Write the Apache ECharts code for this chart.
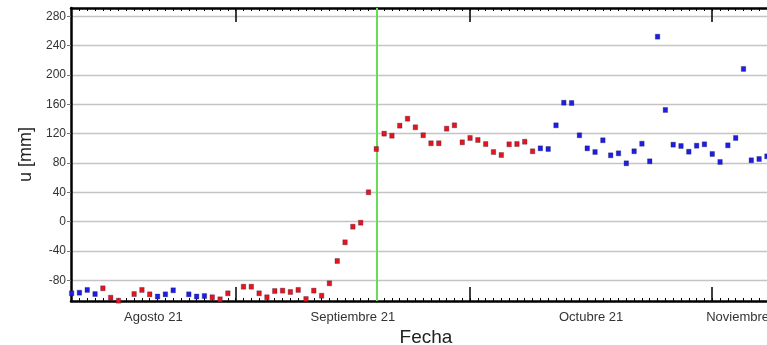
<!DOCTYPE html>
<html><head><meta charset="utf-8">
<script src="https://cdn.jsdelivr.net/npm/echarts@6/dist/echarts.min.js"></script>
<style>html,body{margin:0;padding:0;background:#fff}#c{width:767px;height:345px}</style>
</head><body><div id="c"></div>
<script>
// ---- data ----
const redDates = ['2021-08-15','2021-08-16','2021-08-17','2021-08-19','2021-08-20','2021-08-21','2021-08-29','2021-08-30','2021-08-31',
  '2021-09-02','2021-09-03','2021-09-04','2021-09-05','2021-09-06','2021-09-07','2021-09-08','2021-09-09','2021-09-10','2021-09-11',
  '2021-09-12','2021-09-13','2021-09-14','2021-09-15','2021-09-16','2021-09-17','2021-09-18','2021-09-19','2021-09-20','2021-09-21',
  '2021-09-22','2021-09-23','2021-09-24','2021-09-25','2021-09-26','2021-09-27','2021-09-28','2021-09-29','2021-09-30',
  '2021-10-01','2021-10-02','2021-10-03','2021-10-04','2021-10-05','2021-10-06','2021-10-07','2021-10-08','2021-10-09'];
const redValues = [-90.8,-103.6,-107.7,-98.6,-93,-99,-103,-105.8,-97.6,
  -88.6,-88.6,-97.6,-103,-94.5,-94,-95.8,-93,-105.4,-94,
  -100.9,-84,-53.6,-28.1,-6.8,-1.4,40.1,99.1,120,117.2,
  130.9,140.4,128.7,117.8,106.9,106.9,126.8,131.4,108.2,
  114.1,111.4,105.9,95,90.9,105.5,105.9,109,96];
const blueDates = ['2021-08-11','2021-08-12','2021-08-13','2021-08-14','2021-08-22','2021-08-23','2021-08-24','2021-08-26','2021-08-27','2021-08-28',
  '2021-10-10','2021-10-11','2021-10-12','2021-10-13','2021-10-14','2021-10-15','2021-10-16','2021-10-17','2021-10-18','2021-10-19',
  '2021-10-20','2021-10-21','2021-10-22','2021-10-23','2021-10-24','2021-10-25','2021-10-26','2021-10-27','2021-10-28','2021-10-29',
  '2021-10-30','2021-10-31','2021-11-01','2021-11-02','2021-11-03','2021-11-04','2021-11-05','2021-11-06','2021-11-07','2021-11-08'];
const blueValues = [-97.6,-96.8,-93,-98.6,-102,-99,-93.5,-99,-102,-101.3,
  100,99.1,131.4,162.2,161.8,117.8,100,95,111,90.5,
  93.2,79.6,96,106.3,82.3,252.2,152.3,105,103.2,95.4,
  103.6,105.5,92.3,81.4,104.1,114.1,208.2,83.7,85.5,89.1];
const monthStarts = ['2021-08-01','2021-09-01','2021-10-01','2021-11-01','2021-12-01'];
const monthLabels = ['Agosto 21','Septiembre 21','Octubre 21','Noviembre 21'];
const yTicks = [-80,-40,0,40,80,120,160,200,240,280];
const eventDate = '2021-09-19';
const xRange = ['2021-08-10T22:05','2021-11-09T19:12'];
const yRange = [-108.1, 291.3];

// ---- helpers ----
const REF = Date.UTC(2021, 8, 1);
function day(s) { return (Date.parse(s + (s.length === 10 ? 'T00:00Z' : 'Z')) - REF) / 86400000; }
const xMin = day(xRange[0]), xMax = day(xRange[1]);
const dayTicks = [];
for (let d = Math.ceil(xMin); d <= Math.floor(xMax); d++) dayTicks.push(d);
const monthDays = monthStarts.map(day);
const monthTicks = monthDays.filter(d => d > xMin && d < xMax);
const labelPos = monthLabels.map((_, i) => (Math.max(xMin, monthDays[i]) + Math.min(xMax, monthDays[i + 1])) / 2);
function labelFor(v) { for (let i = 0; i < labelPos.length; i++) if (Math.abs(labelPos[i] - v) < 1e-6) return monthLabels[i]; return ''; }

const redData = redDates.map((d, i) => [day(d), redValues[i]]);
const blueData = blueDates.map((d, i) => [day(d), blueValues[i]]);

const FONT = 'Liberation Sans';
const base = { type: 'value', min: xMin, max: xMax, splitLine: { show: false } };
const chart = echarts.init(document.getElementById('c'), null, { renderer: 'canvas' });
chart.setOption({
  animation: false,
  backgroundColor: '#fff',
  grid: { left: 71, top: 8, right: -14, bottom: 44, containLabel: false, outerBoundsMode: 'none' },
  xAxis: [
    Object.assign({}, base, {
      position: 'bottom',
      axisLine: { onZero: false, lineStyle: { color: '#000', width: 2.5 } },
      axisTick: { inside: true, length: 3, customValues: dayTicks, lineStyle: { color: '#000', width: 1 } },
      axisLabel: { show: false },
      name: 'Fecha', nameLocation: 'middle', nameGap: 27,
      nameTextStyle: { fontFamily: FONT, fontSize: 19, color: '#222' }
    }),
    Object.assign({}, base, {
      position: 'bottom',
      axisLine: { show: false, onZero: false },
      axisTick: { inside: true, length: 14, customValues: monthTicks, lineStyle: { color: '#000', width: 1.5 } },
      axisLabel: { customValues: labelPos, formatter: v => labelFor(v), margin: 10, fontFamily: FONT, fontSize: 13, color: '#333' }
    }),
    Object.assign({}, base, {
      position: 'top',
      axisLine: { onZero: false, lineStyle: { color: '#000', width: 2.5 } },
      axisTick: { inside: true, length: 3, customValues: dayTicks, lineStyle: { color: '#000', width: 1 } },
      axisLabel: { show: false }
    }),
    Object.assign({}, base, {
      position: 'top',
      axisLine: { show: false, onZero: false },
      axisTick: { inside: true, length: 14, customValues: monthTicks, lineStyle: { color: '#000', width: 1.5 } },
      axisLabel: { show: false }
    })
  ],
  yAxis: {
    type: 'value', min: yRange[0], max: yRange[1], position: 'left',
    axisLine: { show: true, onZero: false, lineStyle: { color: '#000', width: 2.5 } },
    axisTick: { show: true, length: 4, customValues: yTicks, lineStyle: { color: '#777', width: 1 } },
    axisLabel: { customValues: yTicks, margin: 5, fontFamily: FONT, fontSize: 12, color: '#333' },
    splitLine: { show: true, lineStyle: { color: '#c4c4c4', width: 1.3 } },
    name: 'u [mm]', nameLocation: 'middle', nameGap: 26,
    nameTextStyle: { fontFamily: FONT, fontSize: 18, color: '#222' }
  },
  series: [
    {
      type: 'scatter', data: redData, symbol: 'rect', symbolSize: [4.5, 5], clip: true, z: 3,
      itemStyle: { color: '#e8141c', borderColor: 'rgba(30,30,70,0.4)', borderWidth: 0.8, opacity: 1 },
      markLine: {
        silent: true, symbol: 'none', label: { show: false }, z: 2,
        lineStyle: { color: '#66dd55', width: 2, type: 'solid' },
        data: [{ xAxis: day(eventDate) }]
      }
    },
    {
      type: 'scatter', data: blueData, symbol: 'rect', symbolSize: [4.5, 5], clip: true, z: 3,
      itemStyle: { color: '#1d1de6', borderColor: 'rgba(30,30,70,0.4)', borderWidth: 0.8, opacity: 1 }
    }
  ]
});
</script></body></html>
